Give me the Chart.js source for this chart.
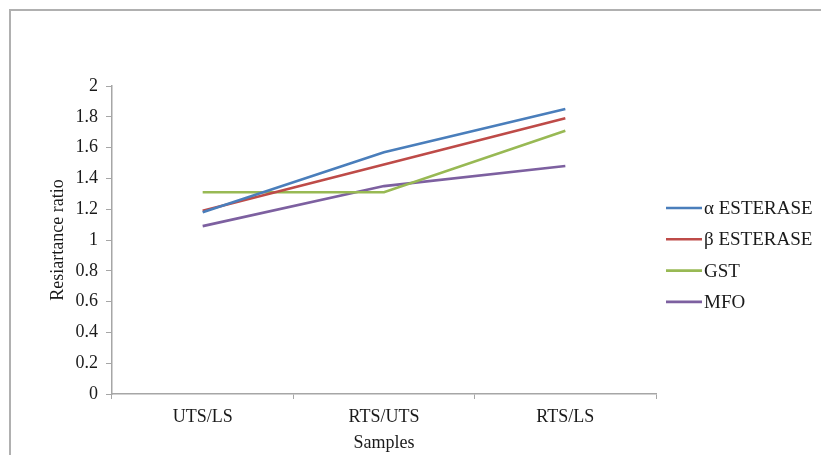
<!DOCTYPE html>
<html>
<head>
<meta charset="utf-8">
<script src="https://cdn.jsdelivr.net/npm/chart.js@4"></script>
<style>
  html, body { margin: 0; padding: 0; background: #fff; overflow: hidden; }
  #wrap { position: relative; width: 821px; height: 455px; overflow: hidden; }
  #frame { position: absolute; left: 9px; top: 9px; width: 900px; height: 600px;
           border: 2px solid #b0b0b0; box-sizing: border-box; pointer-events: none; }
  canvas { position: absolute; left: 0; top: 0; }
</style>
</head>
<body>
<div id="wrap">
  <div id="frame"></div>
  <canvas id="c" width="821" height="455"></canvas>
</div>
<script>
// Sample comparisons on the x axis
const samples = ['UTS/LS', 'RTS/UTS', 'RTS/LS'];

// Resistance ratio per enzyme
const alphaEsterase = [1.18, 1.57, 1.85];
const betaEsterase  = [1.19, 1.49, 1.79];
const gst           = [1.31, 1.31, 1.71];
const mfo           = [1.09, 1.35, 1.48];

const seriesNames  = ['α ESTERASE', 'β ESTERASE', 'GST', 'MFO'];
const seriesColors = ['#4a7ebb', '#be4b48', '#98b954', '#7d60a0'];

const FONT = "'Liberation Serif', 'Times New Roman', serif";
const TEXT = '#1a1a1a';
const AXIS = '#a6a6a6';
const SIZE = 18;

// Legend drawn beside the plot: a short line sample followed by the series name
const sideLegend = {
  id: 'sideLegend',
  afterDraw(chart) {
    const ctx = chart.ctx;
    ctx.save();
    ctx.font = '19px ' + FONT;
    ctx.textBaseline = 'middle';
    ctx.textAlign = 'left';
    chart.data.datasets.forEach((ds, i) => {
      const y = 208 + i * 31.3;
      ctx.strokeStyle = ds.borderColor;
      ctx.lineWidth = 2.6;
      ctx.beginPath();
      ctx.moveTo(666, y);
      ctx.lineTo(702, y);
      ctx.stroke();
      ctx.fillStyle = TEXT;
      ctx.fillText(ds.label, 704, y + 1);
    });
    ctx.restore();
  }
};

const values = [alphaEsterase, betaEsterase, gst, mfo];

new Chart(document.getElementById('c'), {
  type: 'line',
  data: {
    labels: samples,
    datasets: values.map((v, i) => ({
      label: seriesNames[i],
      data: v,
      borderColor: seriesColors[i],
      backgroundColor: seriesColors[i],
      borderWidth: 2.6,
      pointRadius: 0,
      pointHoverRadius: 0,
      tension: 0,
      fill: false
    }))
  },
  options: {
    responsive: false,
    animation: false,
    events: [],
    layout: { padding: { left: 43, top: 86, right: 165, bottom: 0 } },
    plugins: {
      legend: { display: false },
      tooltip: { enabled: false }
    },
    scales: {
      x: {
        offset: true,
        afterFit(scale) { scale.height = 61; },
        grid: {
          offset: true,
          drawOnChartArea: false,
          drawTicks: true,
          tickLength: 5,
          color: AXIS
        },
        border: { display: true, color: AXIS, width: 1.5 },
        ticks: {
          color: TEXT,
          padding: 7,
          maxRotation: 0,
          font: { family: FONT, size: SIZE }
        },
        title: {
          display: true,
          text: 'Samples',
          color: TEXT,
          font: { family: FONT, size: SIZE },
          padding: { top: 4, bottom: 1 }
        }
      },
      y: {
        min: 0,
        max: 2,
        afterFit(scale) { scale.width = 69; },
        grid: {
          drawOnChartArea: false,
          drawTicks: true,
          tickLength: 6,
          color: AXIS
        },
        border: { display: true, color: AXIS, width: 1.5 },
        ticks: {
          stepSize: 0.2,
          color: TEXT,
          padding: 8,
          font: { family: FONT, size: SIZE },
          callback: (v) => String(Math.round(v * 10) / 10)
        },
        title: {
          display: true,
          text: 'Resiartance ratio',
          color: TEXT,
          font: { family: FONT, size: SIZE },
          padding: { top: 4, bottom: 4 }
        }
      }
    }
  },
  plugins: [sideLegend]
});
</script>
</body>
</html>
